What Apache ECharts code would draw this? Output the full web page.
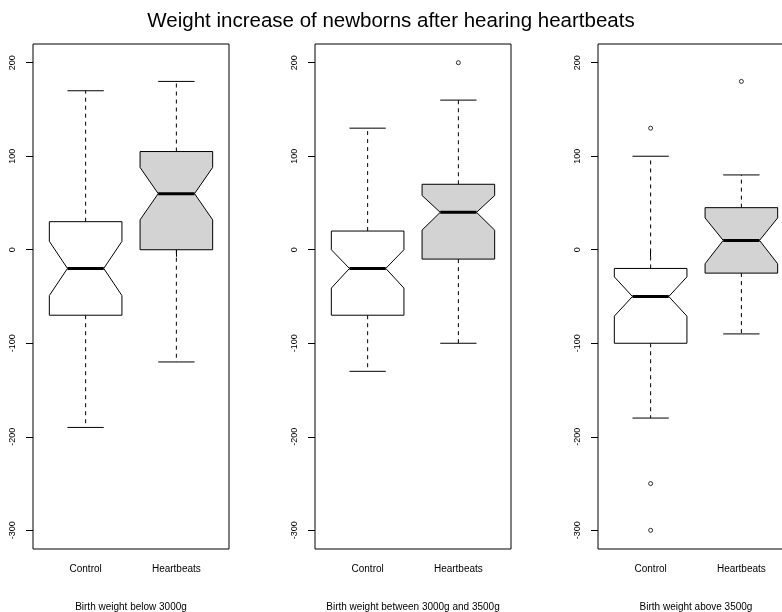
<!DOCTYPE html>
<html>
<head>
<meta charset="utf-8">
<script src="https://cdn.jsdelivr.net/npm/echarts@6/dist/echarts.min.js"></script>
<style>
  html, body { margin: 0; padding: 0; background: #fff; }
  #chart { width: 782px; height: 612px; }
</style>
</head>
<body>
<div id="chart"></div>
<script>
// groups within each panel
const groups = ['Control', 'Heartbeats']
const panelNames = ['Birth weight below 3000g', 'Birth weight between 3000g and 3500g', 'Birth weight above 3500g']
const yTicks = [-300, -200, -100, 0, 100, 200]

// box statistics, one [control, heartbeats] pair per panel
const whiskerLow = [[-190, -120], [-130, -100], [-180, -90]]
const hingeLow = [[-70, 0], [-70, -10], [-100, -25]]
const notchLow = [[-49, 32], [-41, 21], [-71, -15]]
const medians = [[-20, 60], [-20, 40], [-50, 10]]
const notchHigh = [[9, 88], [0, 58], [-29, 34]]
const hingeHigh = [[30, 105], [20, 70], [-20, 45]]
const whiskerHigh = [[170, 180], [130, 160], [100, 80]]
const outliers = [[[], []], [[], [200]], [[130, -250, -300], [180]]]

const boxFill = ['#ffffff', '#d3d3d3']
const panelLeft = [33, 315, 598]

const chart = echarts.init(document.getElementById('chart'))

function renderBox(params, api) {
  const x = api.value(0)
  const idx = api.value(8)
  const hw = 0.4
  const p = (dx, v) => api.coord([x + dx, v])
  const lo = api.value(1), q1 = api.value(2), nLo = api.value(3), med = api.value(4)
  const nHi = api.value(5), q3 = api.value(6), hi = api.value(7)
  const line = { stroke: '#000', lineWidth: 1 }
  const dashed = { stroke: '#000', lineWidth: 1, lineDash: [4, 4] }
  return {
    type: 'group',
    children: [
      { type: 'line', shape: { x1: p(0, q3)[0], y1: p(0, q3)[1], x2: p(0, hi)[0], y2: p(0, hi)[1] }, style: dashed },
      { type: 'line', shape: { x1: p(0, q1)[0], y1: p(0, q1)[1], x2: p(0, lo)[0], y2: p(0, lo)[1] }, style: dashed },
      { type: 'line', shape: { x1: p(-hw / 2, hi)[0], y1: p(0, hi)[1], x2: p(hw / 2, hi)[0], y2: p(0, hi)[1] }, style: line },
      { type: 'line', shape: { x1: p(-hw / 2, lo)[0], y1: p(0, lo)[1], x2: p(hw / 2, lo)[0], y2: p(0, lo)[1] }, style: line },
      {
        type: 'polygon',
        shape: {
          points: [
            p(-hw, q1), p(-hw, nLo), p(-hw / 2, med), p(-hw, nHi), p(-hw, q3),
            p(hw, q3), p(hw, nHi), p(hw / 2, med), p(hw, nLo), p(hw, q1)
          ]
        },
        style: { fill: boxFill[idx], stroke: '#000', lineWidth: 1 }
      },
      { type: 'line', shape: { x1: p(-hw / 2, med)[0], y1: p(0, med)[1], x2: p(hw / 2, med)[0], y2: p(0, med)[1] }, style: { stroke: '#000', lineWidth: 3 } }
    ]
  }
}

const grids = [], xAxes = [], yAxes = [], series = []
panelNames.forEach((name, k) => {
  grids.push({
    left: panelLeft[k], top: 44, width: 196, height: 505,
    outerBoundsMode: 'none', containLabel: false,
    show: true, borderColor: '#000', borderWidth: 1, backgroundColor: 'transparent'
  })
  xAxes.push({
    type: 'value', gridIndex: k, min: 0.42, max: 2.58,
    name: name, nameLocation: 'middle', nameGap: 53,
    nameTextStyle: { fontSize: 10, color: '#000' },
    axisLine: { show: false },
    splitLine: { show: false },
    axisTick: { show: true, customValues: [1, 2], length: 7, lineStyle: { color: '#000' } },
    axisLabel: {
      customValues: [1, 2], fontSize: 10, color: '#000', margin: 15,
      formatter: v => groups[Math.round(v) - 1]
    }
  })
  yAxes.push({
    type: 'value', gridIndex: k, min: -320, max: 220,
    axisLine: { show: false },
    splitLine: { show: false },
    axisTick: { show: true, customValues: yTicks, length: 7, lineStyle: { color: '#000' } },
    axisLabel: { customValues: yTicks, rotate: 90, fontSize: 9, color: '#000', margin: 16 }
  })
  const boxData = groups.map((g, i) => [
    i + 1, whiskerLow[k][i], hingeLow[k][i], notchLow[k][i], medians[k][i],
    notchHigh[k][i], hingeHigh[k][i], whiskerHigh[k][i], i
  ])
  series.push({
    type: 'custom', xAxisIndex: k, yAxisIndex: k,
    renderItem: renderBox, data: boxData, silent: true
  })
  const outData = []
  groups.forEach((g, i) => outliers[k][i].forEach(v => outData.push([i + 1, v])))
  series.push({
    type: 'scatter', xAxisIndex: k, yAxisIndex: k, data: outData,
    symbol: 'circle', symbolSize: 4, silent: true,
    itemStyle: { color: '#fff', borderColor: '#000', borderWidth: 1 }
  })
})

chart.setOption({
  animation: false,
  textStyle: { fontFamily: 'Liberation Sans' },
  title: {
    text: 'Weight increase of newborns after hearing heartbeats',
    left: 'center', top: 6,
    textStyle: { fontSize: 20.5, fontWeight: 'normal', color: '#000', fontFamily: 'Liberation Sans' }
  },
  grid: grids,
  xAxis: xAxes,
  yAxis: yAxes,
  series: series
})
</script>
</body>
</html>
